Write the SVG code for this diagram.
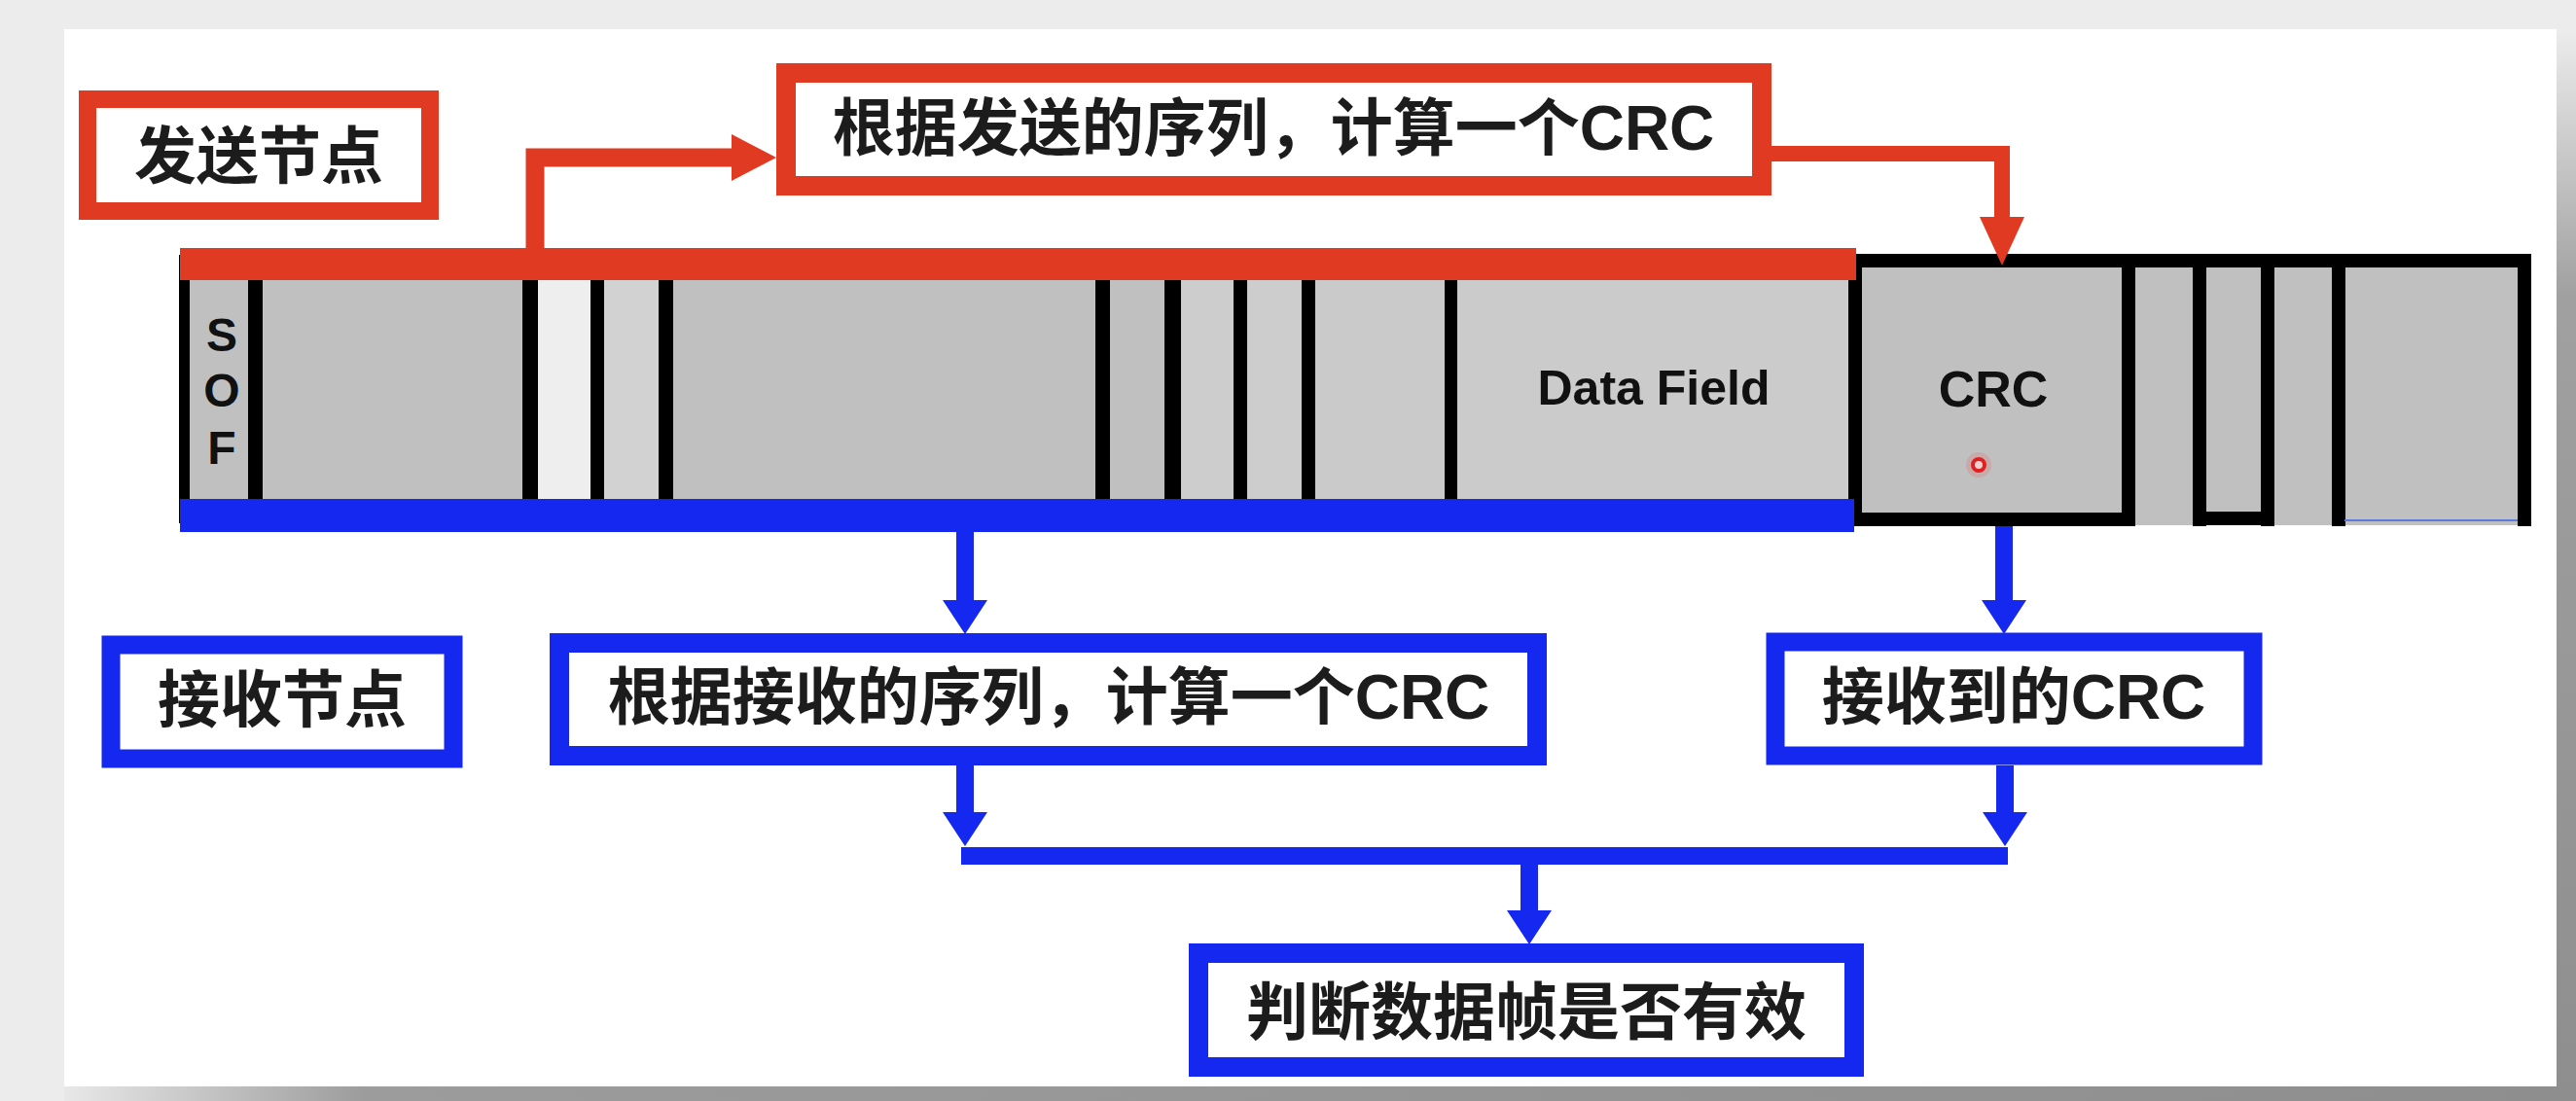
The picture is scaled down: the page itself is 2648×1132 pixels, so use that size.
<svg xmlns="http://www.w3.org/2000/svg" width="2648" height="1132" viewBox="0 0 2648 1132">
  <defs>
    <style>
      .lbl { font-family: "Liberation Sans", "Noto Sans CJK SC", sans-serif; font-weight: 700; font-size: 64px; fill: #1c1c1c; text-anchor: middle; }
      .fld { font-family: "Liberation Sans", "Noto Sans CJK SC", sans-serif; font-weight: 700; fill: #111; text-anchor: middle; }
      .redbox { fill: #ffffff; stroke: #e03a22; stroke-width: 20; }
      .bluebox { fill: #ffffff; stroke: #1428f0; stroke-width: 20; }
      .redline { fill: none; stroke: #e03a22; stroke-linejoin: miter; }
      .blueline { fill: none; stroke: #1428f0; stroke-width: 18; stroke-linejoin: miter; }
      .blk { stroke: #000; stroke-width: 14; fill: none; }
    </style>
    <linearGradient id="shadowB" x1="0" y1="0" x2="1" y2="0">
      <stop offset="0" stop-color="#e8e8e8"/>
      <stop offset="0.12" stop-color="#9c9c9c"/>
      <stop offset="1" stop-color="#8e8e8e"/>
    </linearGradient>
    <linearGradient id="shadowR" x1="0" y1="0" x2="0" y2="1">
      <stop offset="0" stop-color="#ececec"/>
      <stop offset="0.25" stop-color="#a0a0a0"/>
      <stop offset="1" stop-color="#8e8e8e"/>
    </linearGradient>
    <marker id="arRed1" markerUnits="userSpaceOnUse" markerWidth="46" markerHeight="48" refX="0" refY="24" orient="auto">
      <path d="M0,0 L46,24 L0,48 Z" fill="#e03a22"/>
    </marker>
    <marker id="arRed2" markerUnits="userSpaceOnUse" markerWidth="50" markerHeight="46" refX="0" refY="23" orient="auto">
      <path d="M0,0 L50,23 L0,46 Z" fill="#e03a22"/>
    </marker>
    <marker id="arBlue" markerUnits="userSpaceOnUse" markerWidth="35" markerHeight="46" refX="0" refY="23" orient="auto">
      <path d="M0,0 L35,23 L0,46 Z" fill="#1428f0"/>
    </marker>
  </defs>

  <!-- backdrop and slide -->
  <rect x="0" y="0" width="2648" height="1132" fill="#ececec"/>
  <rect x="66" y="1117" width="2582" height="15" fill="url(#shadowB)"/>
  <rect x="2628" y="30" width="20" height="1102" fill="url(#shadowR)"/>
  <rect x="66" y="30" width="2562" height="1087" fill="#ffffff"/>

  <!-- CAN frame -->
  <g id="frame">
    <!-- left part fields -->
    <rect x="186" y="270" width="1722" height="258" fill="#c0c0c0"/>
    <rect x="553" y="280" width="54" height="240" fill="#eeeeee"/>
    <rect x="620" y="280" width="57" height="240" fill="#d2d2d2"/>
    <rect x="1214" y="280" width="54" height="240" fill="#cdcdcd"/>
    <rect x="1282" y="280" width="56" height="240" fill="#cdcdcd"/>
    <rect x="1352" y="280" width="133" height="240" fill="#cacaca"/>
    <rect x="1498" y="280" width="410" height="240" fill="#cbcbcb"/>
    <g fill="#000">
      <rect x="184" y="262" width="11" height="276"/>
      <rect x="255" y="280" width="15" height="240"/>
      <rect x="537" y="280" width="16" height="240"/>
      <rect x="607" y="280" width="14" height="240"/>
      <rect x="677" y="280" width="15" height="240"/>
      <rect x="1126" y="280" width="15" height="240"/>
      <rect x="1197" y="280" width="17" height="240"/>
      <rect x="1268" y="280" width="14" height="240"/>
      <rect x="1338" y="280" width="14" height="240"/>
      <rect x="1485" y="280" width="13" height="240"/>
    </g>
    <text class="fld" x="228" y="361" font-size="48">S</text>
    <text class="fld" x="228" y="418" font-size="48">O</text>
    <text class="fld" x="228" y="477" font-size="48">F</text>
    <text class="fld" x="1700" y="416" font-size="50">Data Field</text>

    <!-- right part (CRC ... EOF) -->
    <rect x="1907" y="268" width="688" height="272" fill="#c0c0c0"/>
    <path class="blk" d="M1907,261 V541 M1900,268 H2602 M1900,534 H2195 M2188,261 V541 M2261,261 V541 M2255,533 H2338 M2331,261 V541 M2404,261 V541 M2595,261 V541"/>
    <line x1="2410" y1="535" x2="2588" y2="535" stroke="#5a7ae0" stroke-width="2"/>
    <text class="fld" x="2049" y="418" font-size="52">CRC</text>
    <circle cx="2034" cy="478" r="13" fill="#ff3030" fill-opacity="0.15"/>
    <circle cx="2034" cy="478" r="6" fill="#f0d0d0" stroke="#e02020" stroke-width="4"/>

    <!-- sender / receiver bars -->
    <rect x="185" y="255" width="1723" height="33" fill="#e03a22"/>
    <rect x="185" y="513" width="1721" height="34" fill="#1428f0"/>
  </g>

  <!-- connectors -->
  <g id="connectors">
    <path class="redline" stroke-width="19" d="M550,262 V162 H752" marker-end="url(#arRed1)"/>
    <path class="redline" stroke-width="16" d="M1821,158 H2058 V223" marker-end="url(#arRed2)"/>
    <path class="blueline" d="M992,547 V617" marker-end="url(#arBlue)"/>
    <path class="blueline" d="M2060,541 V617" marker-end="url(#arBlue)"/>
    <path class="blueline" d="M992,787 V835" marker-end="url(#arBlue)"/>
    <path class="blueline" d="M2061,787 V835" marker-end="url(#arBlue)"/>
    <path class="blueline" d="M988,880 H2064"/>
    <path class="blueline" d="M1572,880 V936" marker-end="url(#arBlue)"/>
  </g>

  <!-- nodes -->
  <g id="node-sender">
    <rect class="redbox" x="90" y="102" width="352" height="115" style="stroke-width:18"/>
    <text class="lbl" x="266" y="183">发送节点</text>
  </g>
  <g id="node-send-crc">
    <rect class="redbox" x="808" y="75" width="1003" height="116"/>
    <text class="lbl" x="1309" y="154">根据发送的序列，计算一个CRC</text>
  </g>
  <g id="node-receiver">
    <rect class="bluebox" x="114" y="663" width="352" height="117" style="stroke-width:19"/>
    <text class="lbl" x="290" y="742">接收节点</text>
  </g>
  <g id="node-recv-calc">
    <rect class="bluebox" x="575" y="661" width="1005" height="116"/>
    <text class="lbl" x="1078" y="739">根据接收的序列，计算一个CRC</text>
  </g>
  <g id="node-recv-crc">
    <rect class="bluebox" x="1825" y="660" width="491" height="117" style="stroke-width:19"/>
    <text class="lbl" x="2070" y="739">接收到的CRC</text>
  </g>
  <g id="node-judge">
    <rect class="bluebox" x="1232" y="980" width="674" height="117"/>
    <text class="lbl" x="1569" y="1063">判断数据帧是否有效</text>
  </g>
</svg>
